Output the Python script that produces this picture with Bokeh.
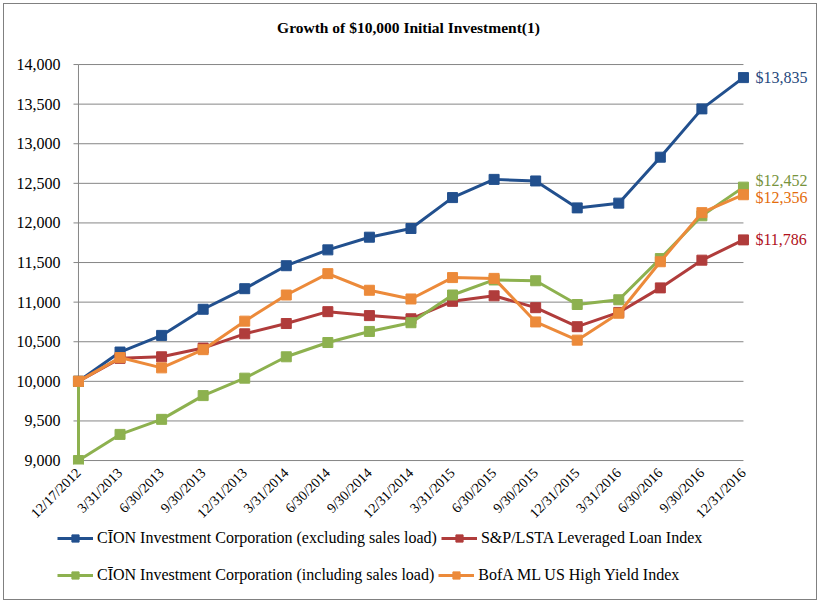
from math import pi
from bokeh.plotting import figure
from bokeh.layouts import column
from bokeh.models import Range1d, FixedTicker, NumeralTickFormatter, Legend, LegendItem, Label
from bokeh.core.properties import value
from bokeh.embed import file_html
from bokeh.resources import INLINE

title_text = "Growth of $10,000 Initial Investment(1)"
dates = ["12/17/2012", "3/31/2013", "6/30/2013", "9/30/2013", "12/31/2013", "3/31/2014",
         "6/30/2014", "9/30/2014", "12/31/2014", "3/31/2015", "6/30/2015", "9/30/2015",
         "12/31/2015", "3/31/2016", "6/30/2016", "9/30/2016", "12/31/2016"]
cion_excl = [10000, 10370, 10580, 10910, 11170, 11460, 11660, 11820, 11930, 12320, 12550,
             12530, 12190, 12250, 12830, 13440, 13835]
loan_index = [10000, 10290, 10310, 10420, 10600, 10730, 10880, 10830, 10790, 11010, 11080,
              10930, 10690, 10870, 11180, 11530, 11786]
cion_incl_start = 10000
cion_incl = [9000, 9330, 9520, 9820, 10040, 10310, 10490, 10630, 10740, 11090, 11280,
             11270, 10970, 11030, 11550, 12090, 12452]
high_yield = [10000, 10300, 10170, 10400, 10760, 11090, 11360, 11150, 11040, 11310, 11300,
              10750, 10520, 10860, 11510, 12130, 12356]
end_labels = ["$13,835", "$11,786", "$12,452", "$12,356"]
y_ticks = [9000, 9500, 10000, 10500, 11000, 11500, 12000, 12500, 13000, 13500, 14000]
names = ["CĪON Investment Corporation (excluding sales load)",
         "S&P/LSTA Leveraged Loan Index",
         "CĪON Investment Corporation (including sales load)",
         "BofA ML US High Yield Index"]

colors = ["#22508E", "#B03C3B", "#8DB14F", "#EC8A3A"]
label_colors = ["#1F497D", "#B0101A", "#77933C", "#E46C0A"]
FONT = "Liberation Serif"

idx = list(range(len(dates)))

# the frame reaches the top of the canvas; the room above 14,000 holds the title
p = figure(width=812, height=525, x_range=Range1d(-0.553, 17.637), y_range=Range1d(8950, 14758),
           output_backend="svg", toolbar_location=None,
           min_border_left=51, min_border_right=5, min_border_top=0, min_border_bottom=0)
p.outline_line_color = None
p.xgrid.visible = False
p.ygrid.visible = False

p.add_layout(Label(x=353, y=437, x_units="screen", y_units="screen", text=title_text,
                   text_align="center", text_baseline="middle", text_font=FONT,
                   text_font_size="15.5px", text_font_style="bold", text_color="#000000"))

# gridlines and axis line
p.segment(x0=[0] * len(y_ticks), x1=[16] * len(y_ticks), y0=y_ticks, y1=y_ticks,
          line_color="#868686", line_width=1)
p.segment(x0=[0], x1=[0], y0=[y_ticks[0]], y1=[y_ticks[-1]], line_color="#868686", line_width=1)
p.segment(x0=[-0.12] * len(y_ticks), x1=[0] * len(y_ticks), y0=y_ticks, y1=y_ticks,
          line_color="#868686", line_width=1)

p.yaxis.ticker = FixedTicker(ticks=y_ticks)
p.yaxis.formatter = NumeralTickFormatter(format="0,0")
p.yaxis.axis_line_color = None
p.yaxis.major_tick_line_color = None
p.yaxis.minor_tick_line_color = None
p.yaxis.major_label_standoff = -11
p.yaxis.major_label_text_font = FONT
p.yaxis.major_label_text_font_size = "16px"
p.yaxis.major_label_text_color = "#000000"

p.xaxis.ticker = FixedTicker(ticks=idx)
p.xaxis.major_label_overrides = {i: d for i, d in enumerate(dates)}
p.xaxis.major_label_orientation = pi / 4
p.xaxis.axis_line_color = None
p.xaxis.major_tick_line_color = None
p.xaxis.minor_tick_line_color = None
p.xaxis.major_label_standoff = 0
p.xaxis.major_label_text_font = FONT
p.xaxis.major_label_text_font_size = "14px"
p.xaxis.major_label_text_color = "#000000"

series = [
    (idx, cion_excl),
    (idx, loan_index),
    ([0] + idx, [cion_incl_start] + cion_incl),
    (idx, high_yield),
]
for (xs, ys), c in zip(series, colors):
    p.line(xs, ys, line_color=c, line_width=3)
    p.scatter(xs, ys, marker="square", size=10, fill_color=c, line_color=c)

finals = [cion_excl[-1], loan_index[-1], cion_incl[-1], high_yield[-1]]
y_offs = [0, 0, -7, 3]
for f, t, c, yo in zip(finals, end_labels, label_colors, y_offs):
    p.text(x=[16], y=[f], text=[t], x_offset=12, y_offset=yo, text_baseline="middle",
           text_align="left", text_color=c, text_font=value(FONT), text_font_size="16px")

# legend panel below the chart (legend swatches only; their points lie outside the view)
pl = figure(width=812, height=70, x_range=Range1d(0, 1), y_range=Range1d(0, 1),
            x_axis_type=None, y_axis_type=None,
            output_backend="svg", toolbar_location=None,
            min_border_left=0, min_border_right=0, min_border_top=0, min_border_bottom=0)
pl.grid.visible = False
pl.outline_line_color = None
items = []
for c, name in zip(colors, names):
    ln = pl.line(x=[-5, -4], y=[-5, -4], line_color=c, line_width=3)
    sc = pl.scatter(x=[-5], y=[-5], marker="square", size=10, fill_color=c, line_color=c)
    items.append(LegendItem(label=name, renderers=[ln, sc]))


def make_legend(its, loc):
    lg = Legend(items=its, orientation="horizontal", location=loc)
    lg.label_text_font = FONT
    lg.label_text_font_size = "16px"
    lg.label_text_color = "#000000"
    lg.border_line_color = None
    lg.background_fill_alpha = 0
    lg.glyph_width = 36
    lg.glyph_height = 18
    lg.label_standoff = 4
    lg.spacing = 4
    lg.padding = 0
    lg.margin = 0
    return lg


pl.add_layout(make_legend([items[0], items[1]], (2, 52)))
pl.add_layout(make_legend([items[2], items[3]], (2, 15)))

layout = column(p, pl, spacing=0)
layout.margin = (3, 3, 3, 3)
layout.styles = {"border": "1px solid #808080"}

open("out.html", "w").write(file_html(layout, INLINE))
